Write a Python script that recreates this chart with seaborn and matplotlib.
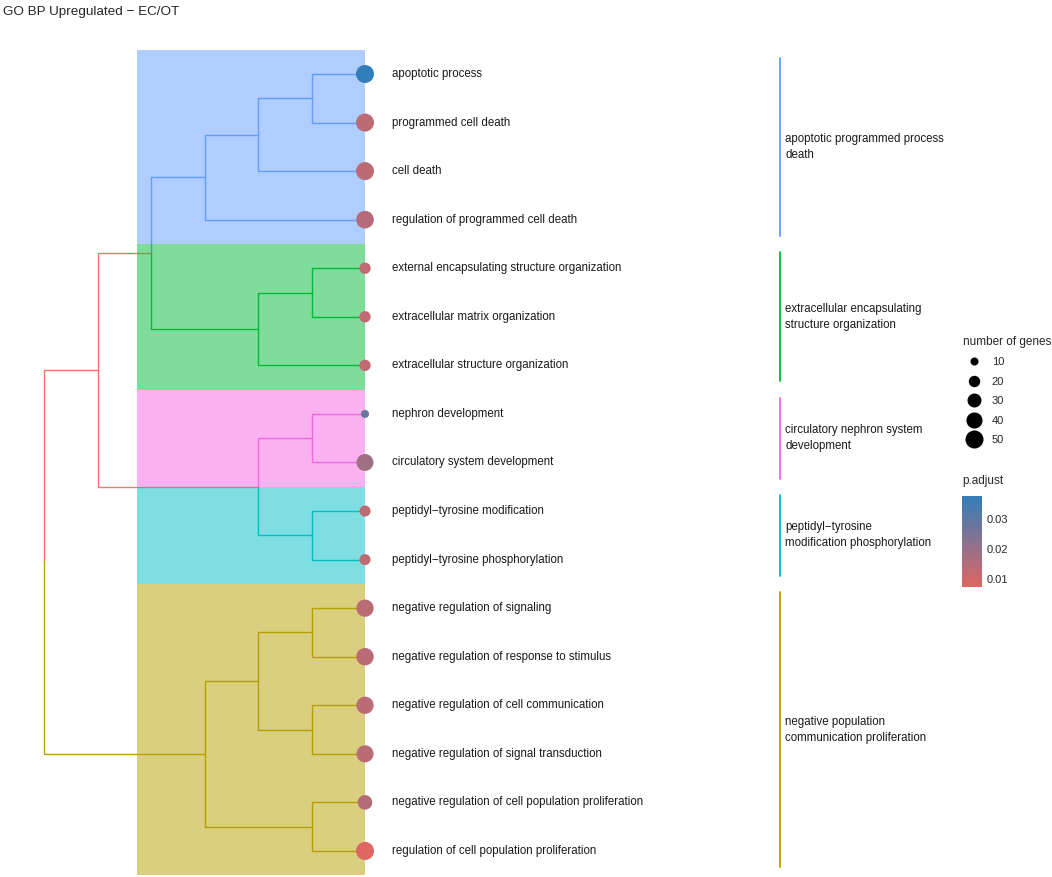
import matplotlib
matplotlib.use("Agg")
import matplotlib.pyplot as plt
from matplotlib.colors import LinearSegmentedColormap, Normalize
from matplotlib.cm import ScalarMappable
from matplotlib.lines import Line2D
from matplotlib.patches import Rectangle
import numpy as np
import pandas as pd
import seaborn as sns

# GO terms (top to bottom), gene counts and adjusted p-values
terms = [
    "apoptotic process",
    "programmed cell death",
    "cell death",
    "regulation of programmed cell death",
    "external encapsulating structure organization",
    "extracellular matrix organization",
    "extracellular structure organization",
    "nephron development",
    "circulatory system development",
    "peptidyl−tyrosine modification",
    "peptidyl−tyrosine phosphorylation",
    "negative regulation of signaling",
    "negative regulation of response to stimulus",
    "negative regulation of cell communication",
    "negative regulation of signal transduction",
    "negative regulation of cell population proliferation",
    "regulation of cell population proliferation",
]
gene_counts = [52, 52, 53, 48, 20, 20, 20, 7, 44, 19, 19, 46, 47, 46, 45, 33, 57]
p_adjust = [0.0375, 0.0135, 0.0135, 0.0150, 0.0125, 0.0125, 0.0125, 0.0280,
            0.0185, 0.0130, 0.0130, 0.0140, 0.0140, 0.0140, 0.0140, 0.0150, 0.0072]

# cluster membership of each term
term_cluster = [0, 0, 0, 0, 1, 1, 1, 2, 2, 3, 3, 4, 4, 4, 4, 4, 4]
cluster_names = [
    "apoptotic programmed process\ndeath",
    "extracellular encapsulating\nstructure organization",
    "circulatory nephron system\ndevelopment",
    "peptidyl−tyrosine\nmodification phosphorylation",
    "negative population\ncommunication proliferation",
]
cluster_colors = ["#619CFF", "#00BA38", "#F564E3", "#00BFC4", "#B79F00"]
mixed_color = "#F8766D"

# tree merges (left node, right node, level); new nodes numbered from len(terms)
merges = [
    (0, 1, 1), (17, 2, 2), (18, 3, 3),
    (4, 5, 1), (20, 6, 2), (19, 21, 4),
    (7, 8, 1), (9, 10, 1), (23, 24, 2),
    (22, 25, 5),
    (11, 12, 1), (13, 14, 1), (27, 28, 2), (15, 16, 1), (29, 30, 3),
    (26, 31, 6),
]

size_breaks = [10, 20, 30, 40, 50]
padj_ticks = [0.01, 0.02, 0.03]
padj_range = (0.0072, 0.0375)

sns.set_style("white")
plt.rcParams["font.family"] = ["Liberation Sans", "DejaVu Sans"]

W, H = 1052, 877
fig = plt.figure(figsize=(W / 100, H / 100), dpi=100)
ax = fig.add_axes([0, 0, 1, 1])
px_x, px_y = 53.5, 48.56
ax.set_xlim(-365 / px_x, (W - 365) / px_x)
ax.set_ylim((H - 74) / px_y, -74 / px_y)
ax.axis("off")

# node positions
n = len(terms)
node_x = [0.0] * n
node_y = [float(i) for i in range(n)]
node_leaves = [{i} for i in range(n)]
for a, b, h in merges:
    node_x.append(-float(h))
    node_y.append((node_y[a] + node_y[b]) / 2)
    node_leaves.append(node_leaves[a] | node_leaves[b])


def node_color(k):
    cl = {term_cluster[i] for i in node_leaves[k]}
    return cluster_colors[cl.pop()] if len(cl) == 1 else mixed_color


for k, (a, b, h) in enumerate(merges):
    p = n + k
    for c in (a, b):
        ax.plot([node_x[p], node_x[p], node_x[c]], [node_y[p], node_y[c], node_y[c]],
                color=node_color(c), lw=1.0, zorder=1, solid_joinstyle="miter")

# cluster highlight rectangles and side labels
rect_left = -4.26
bar_x = (780 - 365) / px_x
for ci, (name, col) in enumerate(zip(cluster_names, cluster_colors)):
    idx = [i for i, c in enumerate(term_cluster) if c == ci]
    y0, y1 = min(idx), max(idx)
    ax.add_patch(Rectangle((rect_left, y0 - 0.5), -rect_left, y1 - y0 + 1,
                           facecolor=col, alpha=0.5, lw=0, zorder=2))
    ax.plot([bar_x, bar_x], [y0 - 0.33, y1 + 0.33], color=col, lw=1.3, zorder=2)
    ax.text(bar_x + 0.1, (y0 + y1) / 2, name, fontsize=8.3, va="center", ha="left",
            linespacing=1.45, color="#1a1a1a")

# leaf points
cmap = LinearSegmentedColormap.from_list("padj", ["#e06663", "#327eba"])
df = pd.DataFrame({"x": node_x[:n], "y": node_y[:n], "count": gene_counts, "padj": p_adjust})
sns.scatterplot(data=df, x="x", y="y", size="count", sizes=(3.37 * 10, 3.37 * 50),
                size_norm=(10, 50), hue="padj", palette=cmap, hue_norm=padj_range,
                linewidth=0, legend=False, zorder=3, ax=ax)
ax.axis("off")

for i, t in enumerate(terms):
    ax.text(0.5, i, t, fontsize=8.3, va="center", ha="left", color="#1a1a1a")

# title
fig.text(3 / W, 1 - 12 / H, "GO BP Upregulated − EC/OT", fontsize=9.7, va="center", ha="left")

# size legend
handles = [Line2D([], [], marker="o", ls="", color="black", mew=0,
                  markersize=np.sqrt(3.37 * v)) for v in size_breaks]
leg = ax.legend(handles, [str(v) for v in size_breaks], title="number of genes",
                loc="upper left", bbox_to_anchor=(955 / W, 1 - 328 / H),
                bbox_transform=fig.transFigure, frameon=False, fontsize=8,
                title_fontsize=8.5, alignment="left", labelspacing=0.85,
                handletextpad=0.6, borderpad=0.2)

# colour bar
cax = fig.add_axes([962 / W, (H - 587) / H, 20 / W, 91 / H])
cb = fig.colorbar(ScalarMappable(norm=Normalize(*padj_range), cmap=cmap), cax=cax,
                  ticks=padj_ticks)
cb.outline.set_visible(False)
cax.tick_params(left=True, right=True, labelleft=False, labelright=True,
                direction="in", color="white", length=3.5, width=0.8, labelsize=8)
cax.set_yticklabels([f"{t:.2f}" for t in padj_ticks])
fig.text(962 / W, 1 - 481 / H, "p.adjust", fontsize=8.5, va="center", ha="left")

fig.savefig("out.png", dpi=100)
